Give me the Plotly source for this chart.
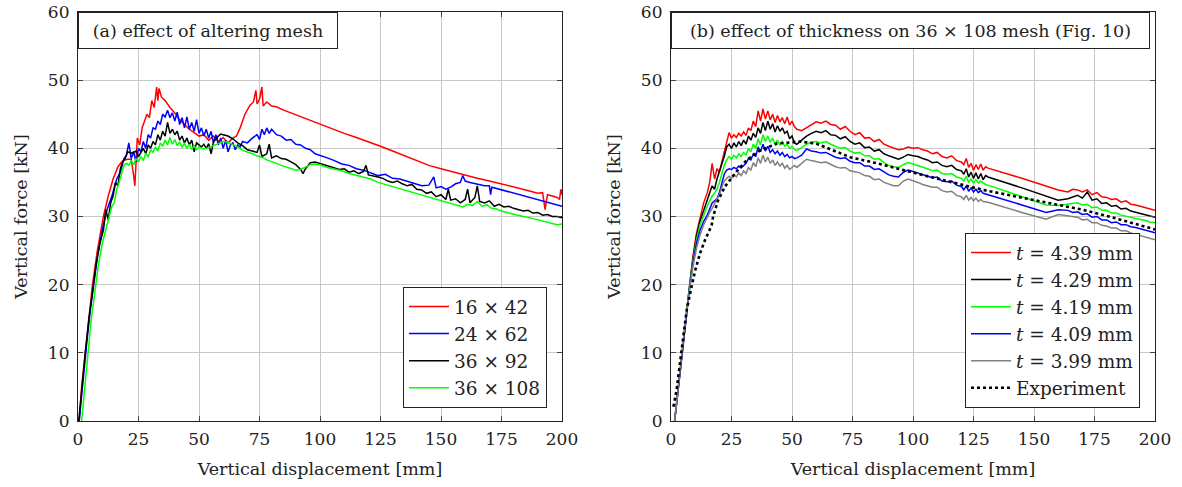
import plotly.graph_objects as go

# ---------------- Panel (a): effect of altering mesh ----------------
x_m16 = [0.5, 1.5, 3, 4.5, 6, 8, 10.5, 12.5, 14.5, 16.5, 18.5, 20.5, 22, 23, 23.5, 24, 24.5, 25.5, 26.5, 27.5,
         28.5, 29.5, 30.5, 31.5, 32.5, 33, 33.5, 34.5, 36, 38, 40, 42, 44, 46, 48, 50, 52, 54, 56, 58,
         60, 62, 64, 65.5, 67, 69, 71, 72.5, 73.5, 74, 75, 76, 76.5, 78, 80, 82, 85, 90, 95, 100,
         105, 110, 115, 120, 125, 130, 135, 140, 145, 150, 155, 160, 165, 170, 175, 180, 185, 190, 192, 193,
         194, 196, 198, 199, 199.5, 200]
y_m16 = [0, 5, 10, 15, 20, 25, 30, 33, 35.5, 37.3, 38.2, 38.4, 38.4, 36, 34.5, 38, 41.5, 40.5, 43, 44,
         45, 44.5, 47, 46, 49, 47, 48.8, 47.5, 47, 46, 45.2, 44.2, 43.5, 42.8, 42.3, 41.8, 42, 41.2, 41.8, 41,
         41.6, 40.8, 41.5, 41.8, 43, 45, 46.3, 46.8, 48.5, 46.5, 47.2, 49, 46.2, 46.8, 46.2, 46.1, 45.6, 44.9, 44.3, 43.6,
         42.8, 42.2, 41.6, 41, 40.3, 39.6, 38.9, 38.2, 37.5, 37, 36.5, 36, 35.6, 35.2, 34.8, 34.3, 33.9, 33.4, 33.5, 31,
         33.2, 33, 32.8, 32.5, 34, 33.2]

x_m24 = [0.5, 2, 3.5, 5, 6.5, 8, 10, 12, 14, 16, 17.5, 19, 20, 21, 22, 23, 24, 25, 26, 27,
         28, 29, 30, 31, 32, 33, 34, 35, 36, 37, 38, 39, 40, 41, 42, 43, 44, 45, 46, 47,
         48, 49, 50, 51, 52, 53, 54, 55, 56, 57, 58, 59, 60, 61, 62, 63, 64, 65, 66, 67,
         68, 70, 72, 74, 75, 76, 77, 78, 79, 80, 82, 84, 86, 88, 90, 92, 94, 96, 98, 100,
         103, 106, 109, 112, 115, 118, 121, 124, 127, 130, 133, 136, 139, 142, 145, 147, 148, 150, 152, 154,
         156, 158, 159, 160, 162, 164, 166, 168, 170, 170.5, 171, 175, 180, 185, 190, 195, 200]
y_m24 = [0, 6, 11, 16, 20, 24, 28, 31, 33, 35.5, 36.5, 38.5, 39, 40.8, 38.5, 39.5, 38, 40, 39.5, 41,
         40, 42, 41.5, 43, 42.8, 44, 43.5, 45, 44.6, 45.6, 44.5, 45.2, 44, 45.3, 43.5, 44.5, 43, 44.6, 42.8, 43.8,
         42.5, 44.2, 42.2, 43, 41.8, 42.8, 41.5, 42.5, 40.8, 42, 40.5, 41.5, 40, 41.2, 39.5, 40.5, 40.8, 39.8, 40.5, 40.2,
         41, 40.8, 41.5, 42, 41.3, 42.8, 42, 43, 42.2, 42.8, 42, 41.8, 41.2, 41.3, 40.6, 40.5, 40, 39.8, 39.2, 39,
         38.6, 38.2, 37.7, 37.5, 37, 36.8, 36.4, 36, 36.2, 35.6, 35.5, 35.2, 34.8, 34.5, 34.6, 35.8, 34.2, 34.4, 34, 34.3,
         34.8, 35, 36, 35.2, 35, 34.8, 34.6, 34.5, 34.5, 33.2, 34.3, 33.9, 33.4, 32.9, 32.4, 31.9, 31.5]

x_m36a = [0.3, 1.5, 3, 4.5, 6, 7.5, 9, 10.5, 11.5, 12.5, 13.5, 14.5, 15.5, 16.5, 17.5, 18.5, 19.5, 20.5, 22, 24,
          25, 26, 27, 28, 29, 30, 31, 32, 33, 34, 35, 36, 37, 38, 39, 40, 41, 42, 43, 44,
          45, 46, 47, 48, 49, 50, 51, 52, 53, 54, 55, 56, 57, 58, 59, 60, 62, 64, 66, 68,
          70, 72, 74, 75, 76, 78, 79, 80, 82, 84, 86, 88, 90, 92, 93, 94, 96, 98, 100, 102,
          104, 106, 108, 110, 112, 114, 116, 118, 119, 120, 122, 124, 126, 128, 130, 132, 134, 136, 138, 140,
          142, 144, 146, 148, 150, 152, 153, 154, 156, 158, 160, 161, 162, 164, 165, 166, 168, 170, 172, 174,
          176, 178, 180, 182, 184, 186, 188, 190, 192, 194, 196, 198, 200]
y_m36a = [0, 5, 10, 15, 19, 23, 26, 28, 31, 29.5, 32, 33, 35, 34.5, 37, 38, 38.5, 39.5, 39.3, 39.6,
          38.8, 39.4, 40, 39.2, 40.5, 40, 41, 40.5, 42, 41.2, 42.5, 41.8, 43.8, 42.2, 42.8, 42, 42.5, 41.2, 41.8, 40.8,
          41.5, 40.5, 41.2, 39.5, 40.8, 40.5, 40.2, 40.6, 40, 40.7, 39.2, 41, 41.3, 41.8, 42.1, 42, 41.8, 41.4, 40.8, 40.4,
          39.8, 39.6, 39.4, 40.5, 38.8, 39.2, 40.6, 38.6, 38.9, 38.5, 38.4, 38, 37.6, 36.9, 36.3, 37, 37.9, 38, 37.8, 37.6,
          37.4, 37.2, 36.9, 37, 36.5, 36.7, 36.3, 36.6, 37.5, 36.1, 36, 35.8, 35.6, 35.2, 35, 35.2, 34.8, 34.5, 34.7, 34,
          33.9, 33.4, 33.6, 32.9, 33.2, 32.5, 34, 32.4, 32.6, 32, 32.5, 34, 32, 32.8, 34.5, 32.2, 32, 32.3, 31.5, 31.8,
          31.4, 31.5, 31.2, 31, 30.8, 30.9, 30.5, 30.6, 30.2, 30.3, 30, 30, 29.8]

x_m36b = [1.5, 2.5, 4, 5.5, 7, 8.5, 10, 11.5, 13, 14, 15, 16, 17, 18, 19, 20, 21, 22, 23, 24,
          25, 26, 27, 28, 29, 30, 31, 32, 33, 34, 35, 36, 37, 38, 39, 40, 41, 42, 43, 44,
          45, 46, 47, 48, 49, 50, 52, 54, 56, 58, 60, 62, 64, 66, 68, 70, 72, 74, 76, 78,
          80, 82, 84, 86, 88, 90, 92, 94, 96, 98, 100, 103, 106, 109, 112, 115, 118, 121, 124, 127,
          130, 133, 136, 139, 142, 145, 148, 151, 154, 157, 159, 161, 163, 165, 167, 169, 171, 173, 175, 178,
          181, 184, 187, 190, 193, 196, 198, 200]
y_m36b = [0, 4, 10, 15, 19, 23, 26, 28, 30, 31.5, 32, 34, 35, 36.3, 37.5, 37.8, 37.5, 38.2, 37.6, 38.5,
          38, 38.8, 38.2, 39.3, 38.7, 39.8, 39.4, 40.2, 39.6, 40.8, 40.3, 41.2, 40.5, 41.6, 40.6, 41.3, 40.4, 40.9, 40.2, 40.7,
          40, 40.6, 39.8, 40.4, 39.8, 40.2, 39.9, 40.1, 40.4, 40.8, 41, 40.9, 40.6, 40.2, 39.7, 39.5, 39.2, 38.9, 38.7, 38.3,
          38.1, 37.8, 37.5, 37.3, 37.1, 36.8, 36.9, 37.3, 37.6, 37.7, 37.6, 37.2, 37, 36.7, 36.3, 36, 35.7, 35.5, 35, 34.7,
          34.4, 34.1, 33.8, 33.4, 33.2, 32.9, 32.5, 32.2, 31.9, 31.6, 31.4, 31.8, 31.6, 32.2, 31.5, 31.7, 31.2, 31.1, 30.8, 30.5,
          30.2, 30, 29.8, 29.5, 29.3, 29, 28.8, 28.9]

# ---------------- Panel (b): effect of thickness ----------------
x_thk = [1.5, 3, 4.5, 6, 7.5, 9, 10.5, 12, 13.5, 15,
         16, 17, 18, 19, 20, 21, 22, 23, 24, 25, 26, 27, 28, 29, 30, 31, 32, 33, 34, 35,
         36, 37, 38, 39, 40, 41, 42, 43, 44, 45, 46, 47, 48, 49, 50, 51,
         52, 54, 56, 58, 60, 62, 64, 66, 68, 70, 72, 74, 76, 78, 80, 82, 84, 86,
         88, 90, 92, 94, 96, 98, 100, 102, 104, 106, 108, 110, 112, 114, 116, 118, 120,
         121, 122, 123, 124, 125, 126, 127, 128, 129, 130, 131,
         145, 155, 160,
         164, 166, 168, 170, 172, 174, 176, 178, 180, 182, 184, 186, 188, 190, 192, 194, 196, 198, 200]

y_t439 = [0, 5, 10, 15, 19.5, 24, 27.5, 30, 32, 33.5,
          35, 37.8, 35.5, 37, 36.5, 38, 39.5, 41.2, 42.3, 41.5, 42, 41.6, 42.2, 41.8, 42.4, 41.9, 43, 42.6, 44, 43.2,
          45.5, 44, 45.8, 44.3, 45.5, 44.2, 45, 43.8, 44.8, 43.9, 44.5, 43.6, 44.6, 43.4, 44, 43.2,
          42.8, 42.6, 43, 43.5, 43.9, 43.7, 44, 43.5, 43.4, 42.8, 43.2, 42.5, 42, 42.3, 41.5, 41.6, 41, 41.3,
          40.6, 40.3, 40, 39.8, 39.9, 40.2, 40, 40.1, 39.8, 39.6, 39.2, 39.4, 38.8, 38.6, 38.9, 38.2, 38,
          37.6, 38.5, 37.2, 37.8, 36.8, 37.6, 36.9, 37.7, 36.8, 37.3, 37.1,
          35.6, 34.5, 33.9,
          33.6, 34, 33.9, 33.6, 33.9, 33.2, 33.5, 32.9, 32.8, 32.5, 32.6, 32.1, 32.3, 31.8, 31.7, 31.5, 31.4, 31.2, 30.9]

y_t429 = [0, 5, 10, 15, 19.3, 23.5, 27, 29.3, 31, 32.5,
          33.5, 34.5, 34, 35.5, 36.5, 37.5, 38.8, 40.2, 40.6, 40, 40.8, 40.2, 41, 40.4, 41.2, 40.6, 41.8, 41.2, 42.2, 41.6,
          43, 42.2, 43.8, 42.6, 44, 42.8, 43.6, 42.4, 43.3, 42.5, 43, 42.2, 42.5, 41.4, 41.8, 40.8,
          40.6, 41.2, 41.8, 42.2, 42.5, 42.3, 42.6, 42, 41.9, 41.4, 41.7, 41, 40.6, 40.8, 40.1, 40.2, 39.6, 39.8,
          39.2, 38.9, 38.6, 38.4, 38.7, 39.1, 38.9, 38.8, 38.5, 38.3, 37.9, 38, 37.5, 37.3, 37.5, 36.9, 36.7,
          36.2, 37, 35.8, 36.5, 35.6, 36.4, 35.5, 36.3, 35.4, 36, 35.8,
          34.2, 33, 32.4,
          32.6, 32.9, 33.1, 32.7, 33.6, 32.4, 32.6, 31.9, 32, 31.5, 31.6, 31.1, 31.2, 30.8, 30.6, 30.5, 30.3, 30.1, 29.9]

y_t419 = [0, 5, 10, 15, 19.3, 23.3, 26.5, 28.8, 30.3, 31.5,
          32.3, 33, 33.4, 34, 35, 36.3, 37.5, 38.3, 38.8, 38.4, 39, 38.6, 39.2, 38.8, 39.4, 39, 40, 39.5, 40.6, 40,
          41.4, 40.5, 42, 41, 41.8, 40.9, 41.5, 40.6, 41.2, 40.5, 41, 40.3, 40.6, 40, 40.3, 39.8,
          39.7, 40.1, 40.6, 40.9, 41, 40.8, 41, 40.6, 40.3, 40, 40.1, 39.6, 39.3, 39.4, 38.9, 38.9, 38.4, 38.5,
          37.9, 37.5, 37.3, 37.2, 37.6, 37.9, 37.7, 37.5, 37.2, 37, 36.7, 36.8, 36.3, 36.2, 36.3, 35.8, 35.6,
          35.2, 35.9, 35, 35.5, 34.9, 35.4, 34.9, 35.2, 34.9, 34.7, 34.6,
          32.9, 31.7, 31.6,
          31.8, 31.9, 32, 31.7, 31.8, 31.3, 31.4, 30.9, 30.9, 30.5, 30.5, 30.2, 30.1, 29.9, 29.7, 29.6, 29.4, 29.2, 29.1]

y_t409 = [0, 5, 10, 15, 19, 23, 26, 28, 29.3, 30.2,
          31, 32, 32.3, 32.6, 33.5, 35, 36.2, 36.8, 37, 36.9, 37.2, 37, 37.4, 37.1, 37.5, 37.8, 38.5, 38.3, 39.2, 38.8,
          40.2, 39.5, 40.6, 39.6, 40.3, 39.4, 39.8, 39.2, 39.6, 39, 39.4, 38.8, 39.1, 38.6, 38.8, 38.5,
          38.6, 39, 39.9, 39.6, 39.5, 39.3, 39.4, 39, 38.7, 38.5, 38.6, 38.1, 37.9, 37.9, 37.4, 37.4, 36.9, 37,
          36.5, 36.1, 35.9, 35.8, 36.5, 36.8, 36.6, 36.4, 36.1, 35.9, 35.7, 35.8, 35.2, 35.1, 35.2, 34.6, 34.4,
          33.9, 34.5, 33.7, 34.2, 33.6, 34, 33.5, 33.8, 33.4, 33.3, 33.2,
          31.7, 30.6, 31,
          30.9, 30.6, 30.7, 30.3, 30.4, 29.9, 30, 29.5, 29.5, 29.1, 29.2, 28.8, 28.8, 28.5, 28.4, 28.2, 28, 27.8, 27.6]

y_t399 = [0, 5, 10, 14.8, 18.8, 22.5, 25.3, 27.3, 28.8, 30,
          30.6, 31.2, 31.8, 32.4, 33.2, 34.3, 35.2, 35.6, 35.9, 35.6, 36.1, 35.8, 36.4, 36, 36.7, 36.3, 37.2, 36.8, 37.9, 37.3,
          38.6, 37.8, 39, 38, 38.7, 37.8, 38.3, 37.5, 38, 37.4, 37.8, 37.1, 37.5, 36.9, 37.2, 37.5,
          37.2, 37.8, 38.4, 38.2, 38.1, 37.9, 38, 37.6, 37.3, 37.1, 37.2, 36.7, 36.5, 36.4, 36, 35.9, 35.4, 35.5,
          35, 34.7, 34.5, 34.5, 35.2, 35.5, 35.3, 35, 34.7, 34.5, 34.3, 34.3, 33.8, 33.6, 33.7, 33.1, 32.9,
          32.5, 33.1, 32.4, 32.8, 32.3, 32.7, 32.2, 32.5, 32.2, 32.2, 32.1,
          30.6, 29.6, 30.3,
          30.1, 29.9, 29.9, 29.5, 29.6, 29.1, 29.1, 28.7, 28.6, 28.3, 28.3, 27.9, 27.9, 27.6, 27.4, 27.2, 27, 26.8, 26.6]

x_exp = [1.0, 2.3, 3.7, 5.1, 6.5, 8.5, 10, 12, 14, 16.8, 17.4, 19.5, 22.3, 26.4, 31.3, 36.8, 43.8, 53,
         60, 74, 87.6, 101.6, 115, 129, 143, 156.6, 170, 184, 198, 200]
y_exp = [2.1, 4.5, 8.5, 12.3, 16.3, 19.7, 22.1, 24.6, 26.5, 28.7, 30, 32.4, 34.4, 36.3, 38.3, 39.7, 40.7, 41,
         40.7, 38.7, 37.6, 36.3, 35.1, 33.9, 32.9, 31.9, 31, 29.7, 28.3, 28.1]

mesh_labels = ["16 × 42", "24 × 62", "36 × 92", "36 × 108"]
thk_labels = ["<i>t</i> = 4.39 mm", "<i>t</i> = 4.29 mm", "<i>t</i> = 4.19 mm",
              "<i>t</i> = 4.09 mm", "<i>t</i> = 3.99 mm", "Experiment"]
x_ticks = [0, 25, 50, 75, 100, 125, 150, 175, 200]
y_ticks = [0, 10, 20, 30, 40, 50, 60]

for ys in (y_t439, y_t429, y_t419, y_t409, y_t399):
    assert len(ys) == len(x_thk), len(ys)
assert len(x_m16) == len(y_m16) and len(x_m24) == len(y_m24)
assert len(x_m36a) == len(y_m36a) and len(x_m36b) == len(y_m36b)
assert len(x_exp) == len(y_exp)

FONT = "DejaVu Serif"
FS = 17.5      # axis titles, panel titles
FL = 18.5      # legend
FT = 17        # tick labels
TXT = "#222222"
RED, BLUE, BLACK, GREEN, GRAY = "#ff0000", "#0000ff", "#000000", "#00ff00", "#808080"
LW = 1.5

fig = go.Figure()

for i, (xs, ys, name, col) in enumerate([(x_m16, y_m16, mesh_labels[0], RED),
                                         (x_m24, y_m24, mesh_labels[1], BLUE),
                                         (x_m36a, y_m36a, mesh_labels[2], BLACK),
                                         (x_m36b, y_m36b, mesh_labels[3], GREEN)]):
    fig.add_trace(go.Scatter(x=xs, y=ys, mode="lines", name=name,
                             line=dict(color=col, width=LW), legendgroup=f"a{i}",
                             xaxis="x", yaxis="y", legend="legend"))

for i, (ys, name, col) in enumerate([(y_t439, thk_labels[0], RED), (y_t429, thk_labels[1], BLACK),
                                     (y_t419, thk_labels[2], GREEN), (y_t409, thk_labels[3], BLUE),
                                     (y_t399, thk_labels[4], GRAY)]):
    fig.add_trace(go.Scatter(x=x_thk, y=ys, mode="lines", name=name,
                             line=dict(color=col, width=LW), legendgroup=f"b{i}",
                             xaxis="x2", yaxis="y2", legend="legend2"))
fig.add_trace(go.Scatter(x=x_exp, y=y_exp, mode="lines", name=thk_labels[5],
                         line=dict(color="black", width=2.6, dash="dot"), legendgroup="b5",
                         xaxis="x2", yaxis="y2", legend="legend2"))

W, H = 1182, 487
L1, R1 = 78, 562
L2, R2 = 671, 1155
T, B = 12, 421

axis_common = dict(showgrid=True, gridcolor="#c8c8c8", gridwidth=1,
                   showline=True, linecolor="#222222", linewidth=1.2, mirror="all",
                   ticks="inside", ticklen=5, tickcolor="#444444", tickwidth=1,
                   zeroline=False, automargin=False, ticklabeloverflow="allow",
                   tickfont=dict(family=FONT, size=FT, color=TXT),
                   title_font=dict(family=FONT, size=FS, color=TXT))
xax = dict(range=[0, 200], tickvals=x_ticks, ticklabelstandoff=2,
           title=dict(text="Vertical displacement [mm]", standoff=15), **axis_common)
yax = dict(domain=[(H - B) / H, (H - T) / H], range=[0, 60], tickvals=y_ticks, ticklabelstandoff=4,
           title=dict(text="Vertical force [kN]", standoff=15), **axis_common)

leg_common = dict(xanchor="right", yanchor="bottom", bgcolor="white", bordercolor=TXT, borderwidth=1,
                  font=dict(family=FONT, size=FL, color=TXT), tracegroupgap=0, itemwidth=40)
box_common = dict(xref="paper", yref="paper", xanchor="left", yanchor="top", showarrow=False,
                  bgcolor="white", bordercolor=TXT, borderwidth=1, borderpad=4, height=27,
                  font=dict(family=FONT, size=FS, color=TXT))

fig.update_layout(
    width=W, height=H,
    margin=dict(l=0, r=0, t=0, b=0),
    paper_bgcolor="white", plot_bgcolor="white",
    font=dict(family=FONT, size=FS, color=TXT),
    xaxis=dict(domain=[L1 / W, R1 / W], anchor="y", **xax),
    yaxis=dict(anchor="x", **yax),
    xaxis2=dict(domain=[L2 / W, R2 / W], anchor="y2", **xax),
    yaxis2=dict(anchor="x2", **yax),
    legend=dict(x=547 / W, y=(H - 408) / H, **leg_common),
    legend2=dict(x=1140 / W, y=(H - 408) / H, **leg_common),
    showlegend=True,
    annotations=[
        dict(text="(a) effect of altering mesh", x=L1 / W, y=(H - T) / H, width=250, **box_common),
        dict(text="(b) effect of thickness on 36 × 108 mesh (Fig. 10)", x=L2 / W, y=(H - T) / H,
             width=469, **box_common),
    ],
)

fig.write_html("out.html", config={"displayModeBar": False},
               post_script="document.body.style.margin='0';document.body.style.padding='0';"
                           "document.body.style.overflow='hidden';")
